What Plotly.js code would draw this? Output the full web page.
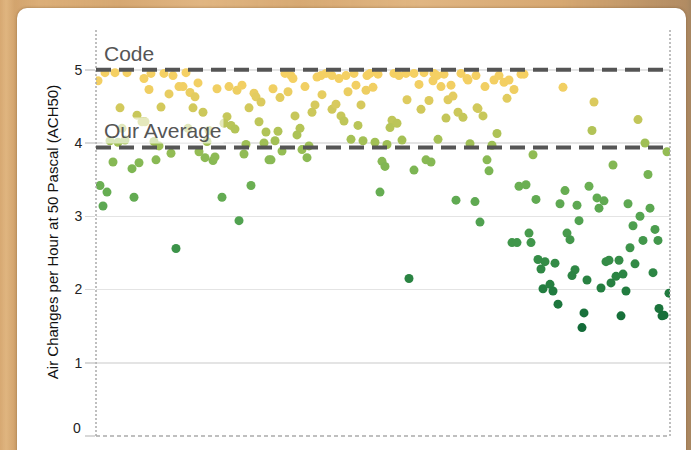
<!DOCTYPE html>
<html>
<head>
<meta charset="utf-8">
<script src="https://cdn.plot.ly/plotly-3.0.1.min.js"></script>
<style>
  html, body { margin: 0; padding: 0; width: 691px; height: 450px; overflow: hidden; }
  body {
    background-color: #dbae78;
    background-image:
      linear-gradient(90deg, rgba(205,155,100,0.3) 0px, rgba(235,200,150,0.25) 6px, rgba(195,145,90,0.35) 15px, rgba(235,200,150,0.0) 40px, rgba(200,150,95,0.25) 120px, rgba(240,205,160,0.25) 200px, rgba(200,150,95,0.2) 300px, rgba(240,205,160,0.25) 420px, rgba(200,150,95,0.25) 560px, rgba(160,125,90,0.7) 686px, rgba(160,130,95,0.9) 691px);
  }
  #card {
    position: absolute; left: 17px; top: 8px; width: 669px; height: 470px;
    background: #fff; border-radius: 10px;
    box-shadow: 0 0 3px rgba(80,50,20,0.45);
  }
  #chart { position: absolute; left: 0; top: 0; width: 691px; height: 450px; }
</style>
</head>
<body>
<div id="card"></div>
<div id="chart"></div>
<script>
// house sample order (horizontal position) and measured ACH50 values
const sampleOrder = [2,9,19,31,48,55,53,68,77,73,83,87,90,94,99,102,121,133,141,146,158,160,165,177,184,189,192,
24,41,46,49,65,97,107,131,128,135,139,153,163,170,182,179,168,150,113,14,22,29,26,58,63,111,186,92,
17,36,43,60,75,103,109,117,119,148,173,175,4,11,7,38,126,155,143,80,
195,197,209,221,225,230,236,243,250,258,271,274,282,226,252,260,270,277,298,303,310,318,323,328,338,341,337,345,348,355,365,371,372,380,311,333,352,357,
219,216,199,204,201,236,240,245,248,265,262,296,301,294,325,350,362,367,381,255,267,279,291,306,342,374,206,213,211,
286,289,318,330,335,284,360,379,384,313,
398,403,408,413,425,428,389,418,411,467,382,387,498,542,401,496,396,549,571,437,391,393,517,552,423,430,440,469,464,481,493,501,508,503,532,554,544,
483,537,559,433,435,416,421,471,474,547,562,534,442,449,445,459,479,476,510,513,523,539,491,520,527,515,557,447,454,457,505,530,573,462,488,486,525,563,566,568];

const ach50 = [4.85,4.96,4.96,4.96,4.88,4.95,4.73,4.95,4.92,4.67,4.77,4.77,4.96,4.69,4.63,4.82,4.74,4.77,4.72,4.79,4.68,4.63,4.56,4.74,4.62,4.95,4.70,
4.48,4.38,4.29,4.29,4.49,4.48,4.42,4.36,4.27,4.24,4.19,4.48,4.29,4.15,4.16,4.03,4.00,3.98,4.17,4.03,4.01,4.04,4.20,4.02,3.96,4.02,3.89,4.20,
3.74,3.65,3.73,3.77,3.86,3.88,3.80,3.76,3.81,3.85,3.77,3.77,3.42,3.33,3.14,3.26,3.26,3.42,2.94,2.56,
4.92,4.88,4.77,4.90,4.92,4.95,4.92,4.88,4.92,4.95,4.92,4.95,4.94,4.66,4.70,4.79,4.72,4.76,4.95,4.92,4.95,4.95,4.80,4.96,4.95,4.92,4.85,4.77,4.94,4.79,4.95,4.88,4.86,4.92,4.59,4.58,4.59,4.64,
4.52,4.42,4.37,4.20,4.11,4.46,4.53,4.37,4.30,4.52,4.24,4.31,4.27,4.21,4.46,4.34,4.42,4.35,4.48,4.05,4.03,4.01,3.98,4.04,4.05,3.99,3.91,3.96,3.80,
3.75,3.68,3.63,3.77,3.74,3.33,3.22,3.20,2.92,2.15,
4.86,4.92,4.83,4.86,4.94,4.94,4.77,4.73,4.61,4.76,4.47,4.37,4.56,4.32,4.13,4.17,3.97,4.00,3.88,3.84,3.77,3.62,3.70,3.57,3.41,3.43,3.23,3.35,3.17,3.15,3.41,3.25,3.21,3.11,3.17,3.11,3.00,
2.94,2.87,2.82,2.77,2.64,2.64,2.64,2.77,2.68,2.67,2.67,2.57,2.41,2.38,2.28,2.36,2.27,2.19,2.38,2.40,2.40,2.35,2.13,2.18,2.21,2.09,2.23,2.01,2.07,1.98,2.02,1.98,1.95,1.80,1.68,1.48,1.64,1.74,1.64,1.65];

const codeLimit = 5.0;
const ourAverage = 3.94;
const yTicks = [0, 1, 2, 3, 4, 5];
const yTickLabels = ["0", "1", "2", "3", "4", "5"];
const yTitle = "Air Changes per Hour at 50 Pascal (ACH50)";

const trace = {
  type: "scatter",
  mode: "markers",
  x: sampleOrder,
  y: ach50,
  hoverinfo: "y",
  marker: {
    size: 9,
    color: ach50,
    cmin: 1.5,
    cmax: 5,
    colorscale: [
      [0.000, "#136b38"],
      [0.143, "#237d40"],
      [0.314, "#3e944a"],
      [0.429, "#55a451"],
      [0.571, "#6fb153"],
      [0.686, "#96bd54"],
      [0.771, "#b5c457"],
      [0.857, "#d4c95c"],
      [0.929, "#f1cf63"],
      [1.000, "#f6d063"]
    ],
    line: { width: 0 },
    opacity: 1
  }
};

const greyText = "#555555";
const tickFont = { size: 14, color: "#222" };
const layout = {
  width: 691,
  height: 450,
  margin: { l: 96, r: 21, t: 28, b: 14 },
  paper_bgcolor: "rgba(0,0,0,0)",
  plot_bgcolor: "rgba(0,0,0,0)",
  showlegend: false,
  font: { family: "Arial, 'Liberation Sans', sans-serif", color: "#222" },
  xaxis: {
    range: [0, 574],
    showgrid: false, zeroline: false, showticklabels: false, ticks: "",
    showline: false, fixedrange: true
  },
  yaxis: {
    range: [0, 5.57],
    tickvals: yTicks,
    // the zero label sits slightly above its tick; it is drawn as an annotation below
    ticktext: yTickLabels.map((t, i) => (i === 0 ? "" : t)),
    ticks: "outside", ticklen: 10, tickcolor: "#d8d8d8", tickwidth: 1.5,
    tickfont: tickFont,
    showgrid: true, gridcolor: "#e4e4e4", gridwidth: 1.5,
    zeroline: false, showline: false,
    automargin: false,
    title: { text: yTitle, font: { size: 15, color: "#111" }, standoff: 12 }
  },
  shapes: [
    { type: "line", xref: "paper", yref: "paper", x0: 0, x1: 0, y0: 0, y1: 1,
      line: { color: "#aaaaaa", width: 1.5, dash: "2px,2px" }, layer: "above" },
    { type: "line", xref: "paper", yref: "paper", x0: 1, x1: 1, y0: 0, y1: 1,
      line: { color: "#aaaaaa", width: 1.5, dash: "2px,2px" }, layer: "above" },
    { type: "line", xref: "paper", yref: "paper", x0: 0, x1: 1, y0: 0, y1: 0,
      line: { color: "#aaaaaa", width: 1.5, dash: "4px,3px" }, layer: "above" },
    { type: "line", xref: "paper", yref: "y", x0: 0, x1: 1, y0: codeLimit, y1: codeLimit,
      line: { color: "#555555", width: 4, dash: "15px,8px" }, layer: "above" },
    { type: "line", xref: "paper", yref: "y", x0: 0, x1: 1, y0: ourAverage, y1: ourAverage,
      line: { color: "#555555", width: 4, dash: "15px,8px" }, layer: "above" }
  ],
  annotations: [
    { text: yTickLabels[0], xref: "paper", yref: "y", x: 0, y: yTicks[0],
      xanchor: "right", yanchor: "middle", xshift: -13, yshift: 8, showarrow: false,
      font: tickFont },
    { text: "Code", xref: "paper", yref: "y", x: 0.0105, y: codeLimit,
      xanchor: "left", yanchor: "bottom", yshift: 3, showarrow: false,
      font: { size: 21, color: greyText } },
    { text: "Our Average", xref: "paper", yref: "y", x: 0.0105, y: ourAverage,
      xanchor: "left", yanchor: "bottom", yshift: 3, showarrow: false,
      bgcolor: "rgba(255,255,255,0.6)",
      font: { size: 21, color: greyText } }
  ]
};

Plotly.newPlot("chart", [trace], layout, { displayModeBar: false, staticPlot: true });
</script>
</body>
</html>
